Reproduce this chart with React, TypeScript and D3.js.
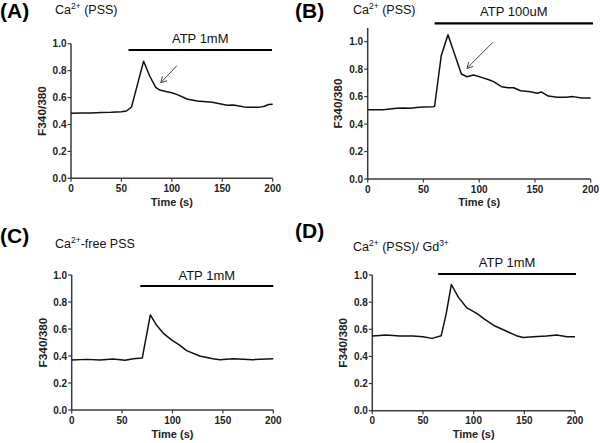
import React from "react";
import * as d3 from "d3";

const timesA = [0, 10, 20, 30, 40, 50, 55, 60, 66, 72, 78, 84, 88, 94, 100, 106, 115, 125, 134, 140, 150, 155, 161, 168, 174, 186, 192, 196, 200];
const valuesA = [0.483, 0.485, 0.486, 0.488, 0.49, 0.495, 0.5, 0.53, 0.7, 0.87, 0.76, 0.676, 0.656, 0.645, 0.636, 0.62, 0.589, 0.575, 0.569, 0.565, 0.55, 0.543, 0.545, 0.535, 0.527, 0.527, 0.535, 0.548, 0.55];

const timesB = [0, 8, 14, 20, 26, 32, 38, 44, 50, 59, 60, 66, 72, 84, 89, 95, 102, 108, 113, 120, 126, 131, 137, 146, 152, 156, 162, 170, 178, 184, 192, 200];
const valuesB = [0.505, 0.505, 0.505, 0.51, 0.515, 0.517, 0.515, 0.52, 0.525, 0.527, 0.53, 0.9, 1.05, 0.765, 0.745, 0.757, 0.74, 0.725, 0.709, 0.672, 0.665, 0.665, 0.643, 0.636, 0.624, 0.633, 0.604, 0.595, 0.595, 0.6, 0.59, 0.59];

const timesC = [0, 15, 28, 41, 53, 61, 70, 78, 84, 91, 99, 107, 114, 127, 140, 147, 160, 180, 200];
const valuesC = [0.37, 0.375, 0.37, 0.378, 0.368, 0.38, 0.385, 0.704, 0.63, 0.568, 0.519, 0.48, 0.44, 0.4, 0.38, 0.373, 0.38, 0.373, 0.38];

const timesD = [0, 14, 27, 40, 50, 59, 68, 73, 78, 85, 93, 103, 111, 121, 132, 142, 149, 159, 172, 182, 192, 200];
const valuesD = [0.55, 0.558, 0.55, 0.55, 0.545, 0.533, 0.553, 0.717, 0.93, 0.835, 0.76, 0.717, 0.673, 0.624, 0.587, 0.553, 0.54, 0.545, 0.55, 0.558, 0.545, 0.545];

const panelLetters = ["(A)", "(B)", "(C)", "(D)"];
const conditionMain = ["Ca", "Ca", "Ca", "Ca"];
const conditionSup = ["2+", "2+", "2+", "2+"];
const conditionRest = [" (PSS)", " (PSS)", "-free PSS", " (PSS)/ Gd"];
const conditionTailSup = ["", "", "", "3+"];
const treatmentLabels = ["ATP 1mM", "ATP 100uM", "ATP 1mM", "ATP 1mM"];
const treatmentStart = [57, 60, 68, 65];
const yMaxes = [1.0, 1.1, 1.0, 1.0];
const yTicks = [0, 0.2, 0.4, 0.6, 0.8, 1.0];
const xTicks = [0, 50, 100, 150, 200];
// arrows: [tailT, tailY, tipT, tipY]
const arrowA = [105, 0.837, 89, 0.71];
const arrowB = [112, 0.993, 89, 0.806];

const FONT = "'Liberation Sans', Arial, Helvetica, sans-serif";

type Layout = {
  x0: number; x1: number; y0: number; y1: number;
  barY: number; barX1: number; labelY: number;
  letterX: number; letterY: number; condX: number; condY: number;
  tickY: number; titleY: number; yLabX: number;
};

const layouts: Layout[] = [
  { x0: 71, x1: 272.7, y0: 178.3, y1: 43.7, barY: 50, barX1: 272, labelY: 43, letterX: 0, letterY: 18, condX: 55, condY: 14, tickY: 192, titleY: 206, yLabX: 46 },
  { x0: 367.7, x1: 590.7, y0: 179, y1: 41.7, barY: 23.3, barX1: 593, labelY: 15.5, letterX: 295, letterY: 18, condX: 353, condY: 14, tickY: 192.5, titleY: 206, yLabX: 342 },
  { x0: 71.7, x1: 273.3, y0: 410, y1: 275, barY: 286, barX1: 273.3, labelY: 280, letterX: 0, letterY: 243, condX: 55, condY: 248, tickY: 424, titleY: 438, yLabX: 47 },
  { x0: 372.3, x1: 575, y0: 410.7, y1: 275, barY: 274, barX1: 576, labelY: 267, letterX: 295, letterY: 238, condX: 353, condY: 251, tickY: 424, titleY: 438, yLabX: 347 },
];

const series = [
  { t: timesA, v: valuesA, arrow: arrowA },
  { t: timesB, v: valuesB, arrow: arrowB },
  { t: timesC, v: valuesC, arrow: null as number[] | null },
  { t: timesD, v: valuesD, arrow: null as number[] | null },
];

const AXIS = "#3a3a3a";

function Panel({ i }: { i: number }) {
  const L = layouts[i];
  const s = series[i];
  const x = d3.scaleLinear().domain([0, 200]).range([L.x0, L.x1]);
  const y = d3.scaleLinear().domain([0, 1]).range([L.y0, L.y1]);
  const yTop = y(yMaxes[i]);
  const line = d3
    .line<number>()
    .x((_, k) => x(s.t[k]))
    .y((d) => y(d));
  const path = line(s.v) || "";
  let arrowEl = null;
  if (s.arrow) {
    const [tt, ty, pt, py] = s.arrow;
    const ax = x(tt), ay = y(ty), bx = x(pt), by = y(py);
    const ang = Math.atan2(by - ay, bx - ax);
    const hl = 6.5;
    const spread = 0.5;
    const h1x = bx - hl * Math.cos(ang - spread), h1y = by - hl * Math.sin(ang - spread);
    const h2x = bx - hl * Math.cos(ang + spread), h2y = by - hl * Math.sin(ang + spread);
    arrowEl = (
      <g stroke="#444" strokeWidth={1} fill="none">
        <line x1={ax} y1={ay} x2={bx} y2={by} />
        <polyline points={`${h1x},${h1y} ${bx},${by} ${h2x},${h2y}`} />
      </g>
    );
  }
  const midX = (L.x0 + L.x1) / 2;
  const midY = (L.y0 + yTop) / 2;
  return (
    <g fontFamily={FONT}>
      <text x={L.letterX} y={L.letterY} fontSize={21} fontWeight="bold" fill="#000">{panelLetters[i]}</text>
      <text x={L.condX} y={L.condY} fontSize={12.5} fill="#111">
        {conditionMain[i]}
        <tspan fontSize={8.5} dy={-5}>{conditionSup[i]}</tspan>
        <tspan dy={5}>{conditionRest[i]}</tspan>
        {conditionTailSup[i] ? <tspan fontSize={8.5} dy={-5}>{conditionTailSup[i]}</tspan> : null}
      </text>
      <line x1={x(treatmentStart[i])} x2={L.barX1} y1={L.barY} y2={L.barY} stroke="#000" strokeWidth={2.2} />
      <text x={(x(treatmentStart[i]) + L.barX1) / 2} y={L.labelY} fontSize={13} textAnchor="middle" fill="#111">{treatmentLabels[i]}</text>
      <line x1={L.x0} x2={L.x0} y1={yTop} y2={L.y0 + 0.75} stroke={AXIS} strokeWidth={1.5} />
      {yTicks.map((v) => (
        <g key={v}>
          <line x1={L.x0 - 3.5} x2={L.x0} y1={y(v)} y2={y(v)} stroke={AXIS} strokeWidth={1.2} />
          <text x={L.x0 - 4.5} y={y(v) + 3.5} fontSize={10} fontWeight="bold" textAnchor="end" fill="#222">{d3.format(".1f")(v)}</text>
        </g>
      ))}
      <line x1={L.x0 - 0.75} x2={L.x1} y1={L.y0} y2={L.y0} stroke={AXIS} strokeWidth={1.5} />
      {xTicks.map((t) => (
        <g key={t}>
          <line x1={x(t)} x2={x(t)} y1={L.y0} y2={L.y0 + 3.5} stroke={AXIS} strokeWidth={1.2} />
          <text x={x(t)} y={L.tickY} fontSize={10} fontWeight="bold" textAnchor="middle" fill="#222">{t}</text>
        </g>
      ))}
      <text x={midX} y={L.titleY} fontSize={11} fontWeight="bold" textAnchor="middle" fill="#222">Time (s)</text>
      <text transform={`translate(${L.yLabX},${midY}) rotate(-90)`} fontSize={11.8} fontWeight="bold" textAnchor="middle" fill="#222">F340/380</text>
      <path d={path} fill="none" stroke="#111" strokeWidth={1.5} strokeLinejoin="round" />
      {arrowEl}
    </g>
  );
}

export default function App() {
  return (
    <svg width={600} height={443} style={{ position: "absolute", left: 0, top: 0, background: "#fff" }}>
      <rect width={600} height={443} fill="#fff" />
      {[0, 1, 2, 3].map((i) => (
        <Panel key={i} i={i} />
      ))}
    </svg>
  );
}
